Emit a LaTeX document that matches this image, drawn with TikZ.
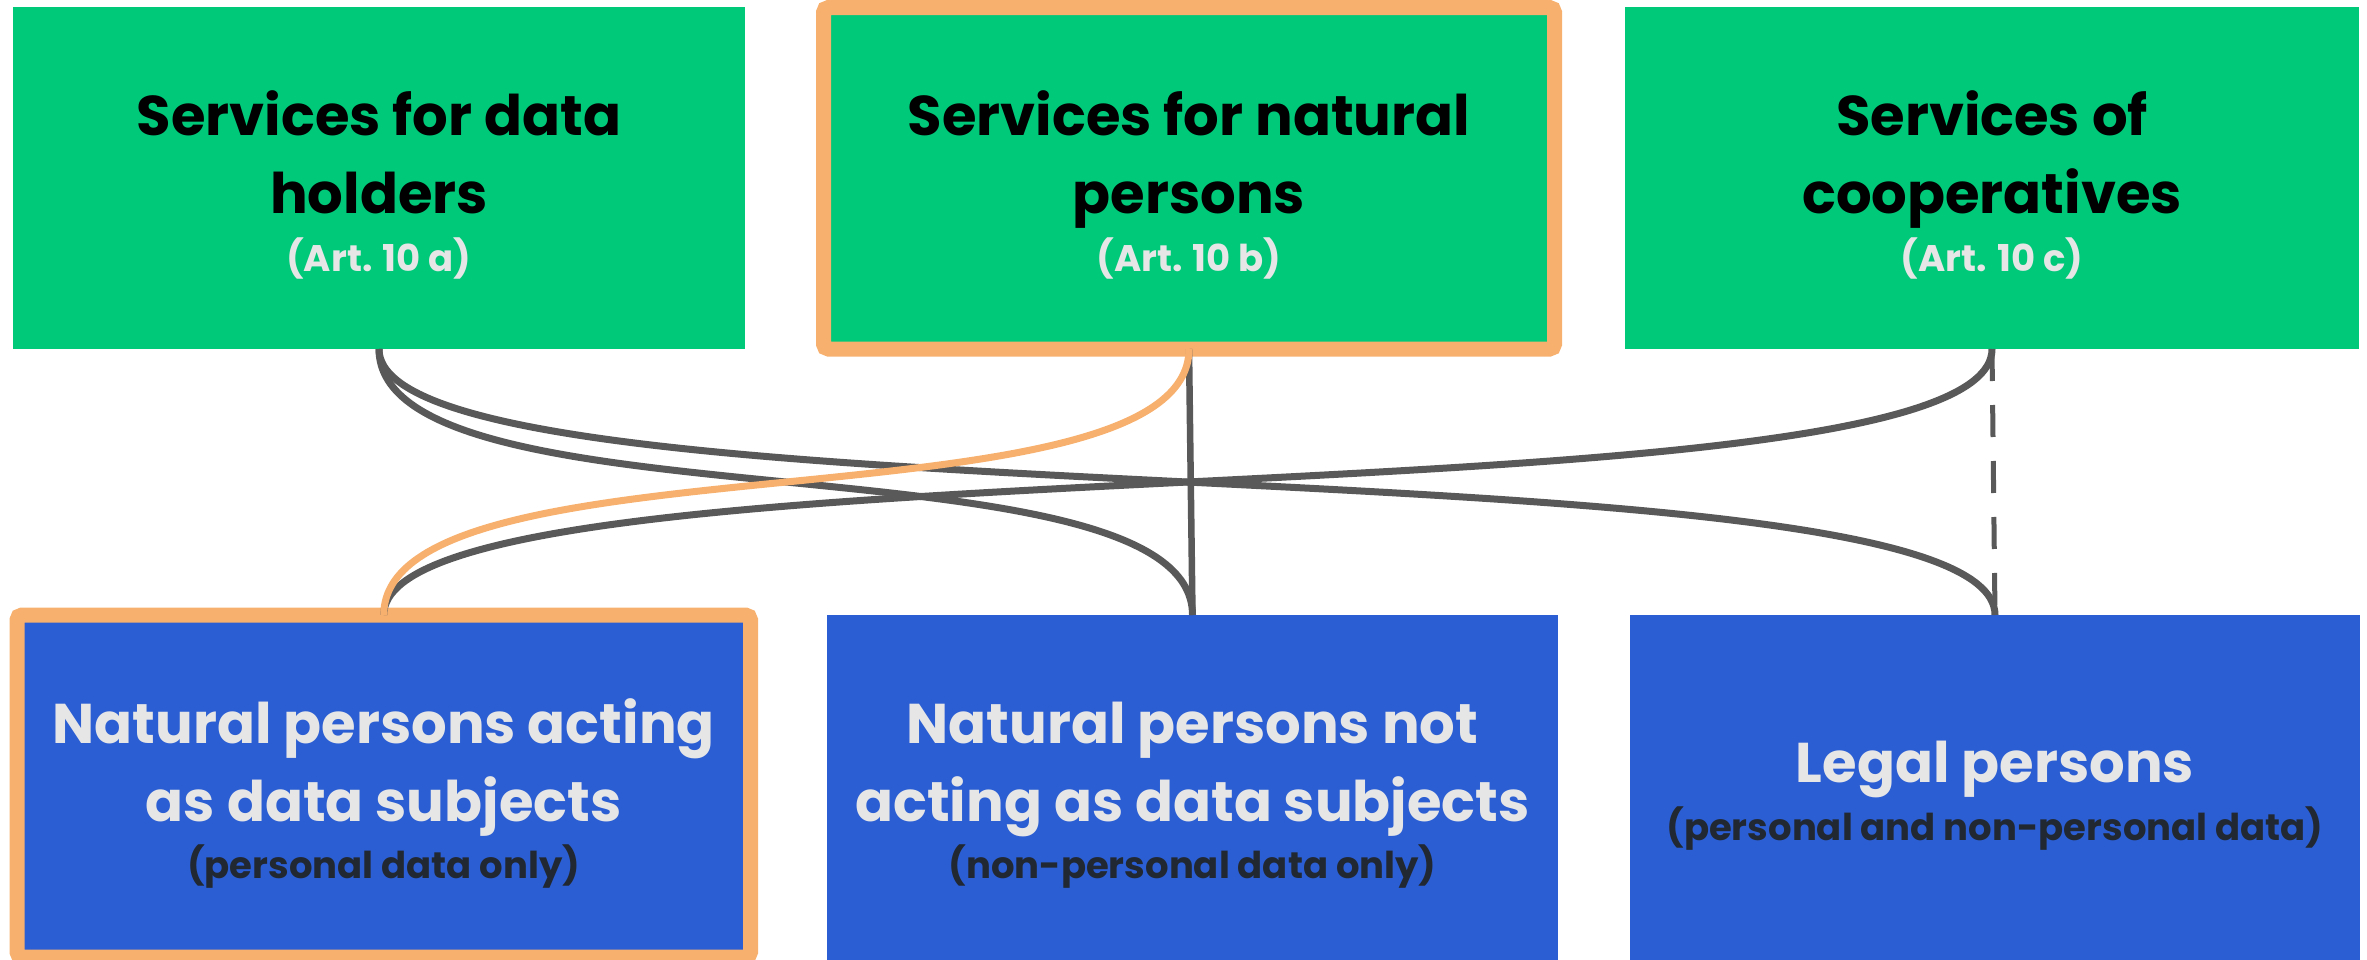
\documentclass[tikz,border=0pt]{standalone}
\usepackage{fontspec}
\setmainfont{Poppins}
\definecolor{boxgreen}{RGB}{0,201,122}
\definecolor{boxblue}{RGB}{43,94,211}
\definecolor{hlorange}{RGB}{247,176,110}
\definecolor{linegray}{RGB}{89,89,89}
\definecolor{lighttext}{RGB}{230,230,230}
\definecolor{darktext}{RGB}{34,40,49}
\tikzset{
  box/.style={rectangle, inner sep=0pt, outer sep=0pt, draw=none},
  greenbox/.style={box, fill=boxgreen},
  bluebox/.style={box, fill=boxblue},
  hlbox/.style={draw=hlorange, line width=15pt, rounded corners=5pt},
  ttl/.style={anchor=base, inner sep=0pt, font=\fontsize{56}{67}\selectfont\bfseries},
  sub/.style={anchor=base, inner sep=0pt, font=\fontsize{37}{44}\selectfont\bfseries},
  conn/.style={draw=linegray, line width=7pt},
  hlconn/.style={draw=hlorange, line width=7pt},
  straight/.style={draw=linegray, line width=6.5pt},
}
\begin{document}
\begin{tikzpicture}[x=1pt,y=-1pt]
\useasboundingbox (0,0) rectangle (2367,959);
% top boxes
\node[greenbox, minimum width=732pt, minimum height=342pt] (A) at (379,178) {};
\node[greenbox, hlbox, minimum width=731pt, minimum height=341.5pt] (B) at (1189,178.25) {};
\node[greenbox, minimum width=734pt, minimum height=342pt] (C) at (1992,178) {};
% bottom boxes
\node[bluebox, hlbox, minimum width=733.5pt, minimum height=342pt] (D) at (383.75,786) {};
\node[bluebox, minimum width=731pt, minimum height=350pt] (E) at (1192.5,790) {};
\node[bluebox, minimum width=730pt, minimum height=350pt] (F) at (1995,790) {};
% texts top
\node[ttl] (A1) at (379,135) {Services for data};
\node[ttl] (A2) at (379,213) {holders};
\node[sub, text=lighttext] (A3) at (379,271) {(Art. 10 a)};
\node[ttl] (B1) at (1189,135) {Services for natural};
\node[ttl] (B2) at (1189,213) {persons};
\node[sub, text=lighttext] (B3) at (1189,271) {(Art. 10 b)};
\node[ttl] (C1) at (1992,135) {Services of};
\node[ttl] (C2) at (1992,213) {cooperatives};
\node[sub, text=lighttext] (C3) at (1992,271) {(Art. 10 c)};
% texts bottom
\node[ttl, text=lighttext] (D1) at (383.75,743) {Natural persons acting};
\node[ttl, text=lighttext] (D2) at (383.75,821) {as data subjects};
\node[sub, text=darktext] (D3) at (383.75,878) {(personal data only)};
\node[ttl, text=lighttext] (E1) at (1192.5,743) {Natural persons not};
\node[ttl, text=lighttext] (E2) at (1192.5,821) {acting as data subjects};
\node[sub, text=darktext] (E3) at (1192.5,878) {(non-personal data only)};
\node[ttl, text=lighttext] (F1) at (1995,782) {Legal persons};
\node[sub, text=darktext] (F3) at (1995,840) {(personal and non-personal data)};
% connectors
\draw[conn] (A.south) .. controls +(0,185) and +(0,-185) .. (E.north);
\draw[conn] (A.south) .. controls +(0,185) and +(0,-185) .. (F.north);
\draw[conn] (C.south) .. controls +(0,185) and +(0,-185) .. (D.north);
\draw[straight] (B.south) -- (E.north);
\draw[straight, line width=5pt, dash pattern=on 32pt off 24pt] (C.south) -- (F.north);
\draw[hlconn] (B.south) .. controls +(0,185) and +(0,-185) .. (D.north);
\end{tikzpicture}
\end{document}
